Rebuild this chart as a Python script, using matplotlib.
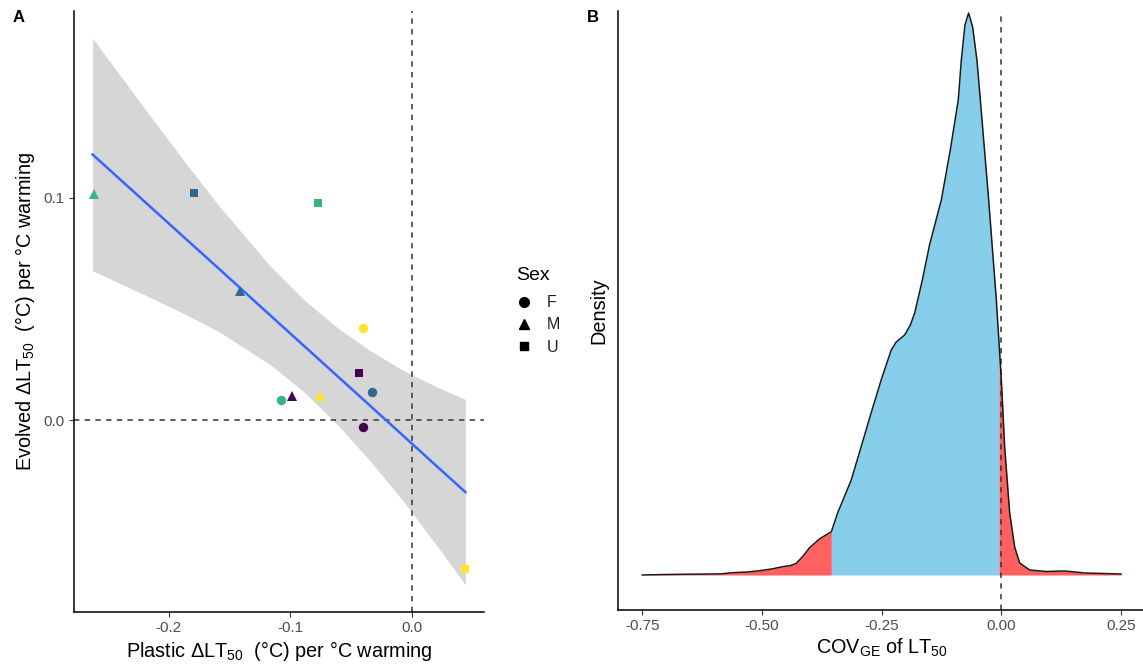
import numpy as np
import matplotlib
matplotlib.use("Agg")
import matplotlib.pyplot as plt
from matplotlib.lines import Line2D

plt.rcParams['font.family'] = ['Liberation Sans', 'DejaVu Sans']
plt.rcParams['mathtext.fontset'] = 'custom'
plt.rcParams['mathtext.rm'] = 'Liberation Sans'
plt.rcParams['mathtext.default'] = 'regular'

# ---- panel A data ----
pop_colors = ['#440154', '#31688E', '#35B779', '#FDE725']
sex_levels = ['F', 'M', 'U']
sex_markers = {'F': 'o', 'M': '^', 'U': 's'}

pt_color = [0, 0, 0, 1, 1, 1, 2, 2, 2, 3, 3, 3]
pt_sex = ['F', 'M', 'U', 'F', 'M', 'U', 'F', 'M', 'U', 'F', 'M', 'U']
plastic = [-0.040, -0.099, -0.0434, -0.0328, -0.141, -0.1795,
           -0.108, -0.2617, -0.077, -0.040, -0.076, 0.0434]
evolved = [-0.003, 0.011, 0.0213, 0.0127, 0.058, 0.102,
           0.009, 0.1015, 0.0977, 0.0416, 0.011, -0.067]

fit_x = [-0.2625, -0.2136, -0.1863, -0.1589, -0.1164, -0.0891,
         -0.0616, -0.0343, -0.0069, 0.0205, 0.0438]
fit_y = [0.1193, 0.0951, 0.0816, 0.0681, 0.0470, 0.0335,
         0.0199, 0.0064, -0.0072, -0.0208, -0.0323]
ci_hi = [0.1715, 0.1355, 0.1157, 0.0964, 0.0691, 0.0542,
         0.0416, 0.0312, 0.0222, 0.0149, 0.0093]
ci_lo = [0.0671, 0.0547, 0.0475, 0.0398, 0.0249, 0.0128,
         -0.0018, -0.0184, -0.0366, -0.0565, -0.0739]

# ---- panel B data: density of COV_GE ----
dens_x = [-0.750, -0.700, -0.650, -0.610, -0.585, -0.562, -0.530, -0.505,
          -0.480, -0.457, -0.440, -0.428, -0.414, -0.401, -0.380, -0.355,
          -0.342, -0.3135, -0.293, -0.272, -0.251, -0.230, -0.2195, -0.202,
          -0.190, -0.181, -0.165, -0.150, -0.1254, -0.107, -0.090, -0.0836,
          -0.0760, -0.0684, -0.0600, -0.051, -0.0439, -0.0265, -0.0105,
          0.000, 0.0069, 0.0174, 0.0278, 0.0383, 0.0592, 0.0947, 0.1323,
          0.174, 0.250]
dens_y = [0.00, 0.005, 0.008, 0.010, 0.012, 0.023, 0.030, 0.043,
          0.060, 0.083, 0.095, 0.117, 0.19, 0.27, 0.36, 0.433,
          0.62, 0.95, 1.28, 1.62, 1.95, 2.25, 2.33, 2.40,
          2.50, 2.62, 2.95, 3.30, 3.75, 4.24, 4.75, 5.15,
          5.50, 5.62, 5.48, 5.15, 4.75, 3.75, 2.75,
          1.95, 1.28, 0.62, 0.28, 0.12, 0.05, 0.035, 0.04,
          0.02, 0.01]
q_lo, q_hi = -0.355, -0.005
b_ticks = [-0.75, -0.50, -0.25, 0.00, 0.25]

W, H = 1143, 665
fig = plt.figure(figsize=(W / 100, H / 100), dpi=100)


def frac(l, t, r, b):
    return [l / W, 1 - b / H, (r - l) / W, (b - t) / H]


tick_col = '#4D4D4D'


def style(ax):
    for s in ['top', 'right']:
        ax.spines[s].set_visible(False)
    for s in ['left', 'bottom']:
        ax.spines[s].set_linewidth(1.1)
        ax.spines[s].set_color('black')
    ax.tick_params(length=3.5, width=0.8, color='#333333',
                   labelcolor=tick_col, labelsize=11, pad=3)


# ---- Panel A ----
axA = fig.add_axes(frac(74, 11, 484, 612))
style(axA)
axA.fill_between(fit_x, ci_lo, ci_hi, color='#D6D6D6', lw=0, zorder=1)
axA.axvline(0, color='#333333', lw=1.1, dashes=(3.5, 3.5), zorder=2)
axA.axhline(0, color='#333333', lw=1.1, dashes=(3.5, 3.5), zorder=2)
axA.plot(fit_x, fit_y, color='#3366FF', lw=1.8, zorder=3)
for xi, yi, ci, sx in zip(plastic, evolved, pt_color, pt_sex):
    ms = 7.5 if sx == 'M' else 6.8
    if sx == 'U':
        ms = 6.3
    axA.plot(xi, yi, marker=sex_markers[sx], color=pop_colors[ci],
             ms=ms, mew=0, ls='none', zorder=4)

xs_all = plastic + fit_x
ys_all = evolved + ci_lo + ci_hi
xr = max(xs_all) - min(xs_all)
yr = max(ys_all) - min(ys_all)
axA.set_xlim(min(xs_all) - 0.05 * xr, max(xs_all) + 0.05 * xr)
axA.set_ylim(min(ys_all) - 0.05 * yr, max(ys_all) + 0.05 * yr)
axA.set_xticks([-0.2, -0.1, 0.0])
axA.set_xticklabels(['-0.2', '-0.1', '0.0'])
axA.set_yticks([0.0, 0.1])
axA.set_yticklabels(['0.0', '0.1'])
axA.set_xlabel('Plastic ΔLT$_{50}$  (°C) per °C warming', fontsize=14.3, labelpad=3)
axA.set_ylabel('Evolved ΔLT$_{50}$  (°C) per °C warming', fontsize=14.3, labelpad=5)

handles = [Line2D([], [], marker=sex_markers[s], color='black', ls='none',
                  ms=7 if s != 'U' else 6.3) for s in sex_levels]
leg = fig.legend(handles, sex_levels, title='Sex', loc='upper left',
                 bbox_to_anchor=(505 / W, 1 - 256 / H), frameon=False,
                 fontsize=11.5, title_fontsize=14, handlelength=1.0,
                 handletextpad=0.9, labelspacing=0.45, borderpad=0.2)
leg._legend_box.align = 'left'
leg._legend_box.sep = 8
for t in leg.get_texts():
    t.set_color('#222222')

fig.text(13 / W, 1 - 17 / H, 'A', fontsize=12, fontweight='bold', va='center')

# ---- Panel B ----
axB = fig.add_axes(frac(618.3, 11, 1145, 610))
style(axB)
dx = np.array(dens_x)
dy = np.array(dens_y)


def seg(a, b):
    m = (dx > a) & (dx < b)
    xs = np.concatenate([[a], dx[m], [b]])
    return xs, np.interp(xs, dx, dy)


for a, b, col in [(dx[0], q_lo, '#FF6060'), (q_lo, q_hi, '#87CEEB'),
                  (q_hi, dx[-1], '#FF6060')]:
    xs, ys = seg(a, b)
    axB.fill_between(xs, 0, ys, color=col, lw=0, zorder=1)
axB.plot(dx, dy, color='#1A1A1A', lw=1.1, zorder=3, solid_joinstyle='round')
axB.axvline(0, color='#333333', lw=1.1, dashes=(3.5, 3.5), zorder=2)
axB.set_xlim(-0.80, 0.30)
axB.set_ylim(-0.35, 5.64)
axB.set_xticks(b_ticks)
axB.set_xticklabels(['%.2f' % v for v in b_ticks])
axB.set_yticks([])
axB.set_xlabel('COV$_{GE}$ of LT$_{50}$', fontsize=14.3, labelpad=3)
axB.set_ylabel('Density', fontsize=14.3, labelpad=7)

fig.text(587 / W, 1 - 17 / H, 'B', fontsize=12, fontweight='bold', va='center')

fig.savefig('out.png', dpi=100)
